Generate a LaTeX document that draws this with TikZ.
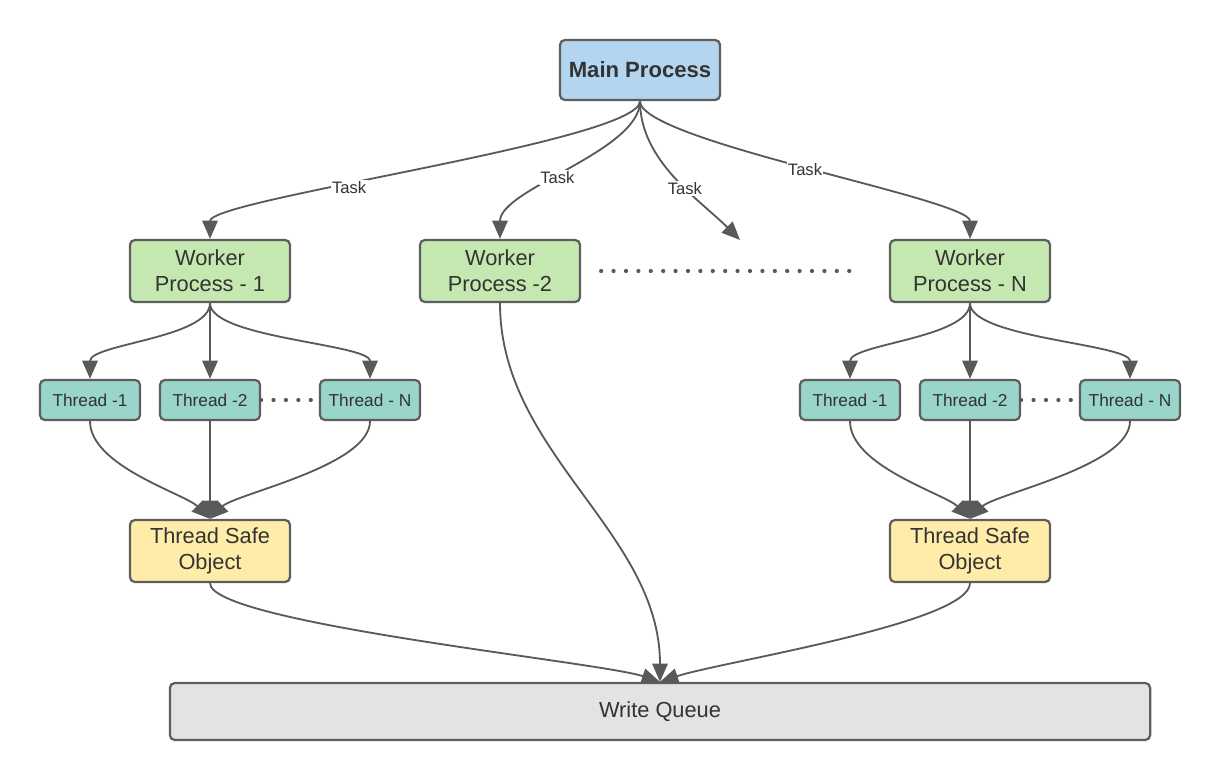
\documentclass[tikz,border=0pt]{standalone}
\usepackage{fontspec}
\setmainfont{Liberation Sans}
\usetikzlibrary{arrows.meta}
\definecolor{txtgray}{HTML}{333333}
\definecolor{edgegray}{HTML}{5E5E5E}
\definecolor{linegray}{HTML}{595959}
\definecolor{mainblue}{HTML}{B3D5F0}
\definecolor{workgreen}{HTML}{C5E8B0}
\definecolor{threadteal}{HTML}{99D5CA}
\definecolor{safeyellow}{HTML}{FFECA9}
\definecolor{queuegray}{HTML}{E3E3E3}
\begin{document}
\begin{tikzpicture}
	[x=0.025cm,y=-0.025cm,
	every node/.style={text=txtgray,align=center,inner sep=0pt},
	box/.style={draw=edgegray,line width=1.6pt,rounded corners=3.5pt,
		font=\fontsize{15.5}{18.5}\selectfont},
	procbox/.style={box,minimum width=4cm,minimum height=1.55cm},
	threadbox/.style={box,fill=threadteal,minimum width=2.5cm,minimum height=1cm,
		font=\fontsize{12.3}{14}\selectfont},
	task/.style={fill=white,inner sep=1pt,font=\fontsize{11.8}{13}\selectfont},
	link/.style={draw=linegray,line width=1.3pt,-{Triangle[length=13pt,width=11pt]}},
	dotline/.style={draw=linegray,line width=3pt,line cap=round,
		dash pattern=on 0pt off 0.31cm}
	]
	\useasboundingbox (0,0) rectangle (1220,780);
	% main and workers
	\node[procbox,fill=mainblue,minimum height=1.5cm,font=\fontsize{15.7}{18.5}\selectfont\bfseries] (main) at (640,70) {Main Process};
	\node[procbox,fill=workgreen] (wone) at (210,271) {Worker\\Process - 1};
	\node[procbox,fill=workgreen] (wtwo) at (500,271) {Worker\\Process -2};
	\node[procbox,fill=workgreen] (wn) at (970,271) {Worker\\Process - N};
	\coordinate (taskend) at (740,240);
	% threads
	\node[threadbox] (lone) at (90,400) {Thread -1};
	\node[threadbox] (ltwo) at (210,400) {Thread -2};
	\node[threadbox] (ln) at (370,400) {Thread - N};
	\node[threadbox] (rone) at (850,400) {Thread -1};
	\node[threadbox] (rtwo) at (970,400) {Thread -2};
	\node[threadbox] (rn) at (1130,400) {Thread - N};
	% safe objects and queue
	\node[procbox,fill=safeyellow] (tsol) at (210,551) {Thread Safe\\Object};
	\node[procbox,fill=safeyellow] (tsor) at (970,551) {Thread Safe\\Object};
	\node[box,fill=queuegray,minimum width=24.5cm,minimum height=1.425cm] (wq) at (660,711.5) {Write Queue};

	% tasks
	\draw[link] (main.south) .. controls +(0,40) and +(0,-40) .. node[task,pos=0.62]{Task} (wone.north);
	\draw[link] (main.south) .. controls +(0,50) and +(0,-50) .. node[task,pos=0.56]{Task} (wtwo.north);
	\draw[link] (main.south) .. controls +(0,60) and +(-40,-40) .. node[task,pos=0.58]{Task} (taskend);
	\draw[link] (main.south) .. controls +(0,40) and +(0,-40) .. node[task,pos=0.5]{Task} (wn.north);
	\draw[dotline] ([xshift=0.5cm]wtwo.east) -- ([xshift=-0.75cm]wn.west);

	% worker 1 side
	\draw[link] (wone.south) .. controls +(0,35) and +(0,-35) .. (lone.north);
	\draw[link] (wone.south) -- (ltwo.north);
	\draw[link] (wone.south) .. controls +(0,35) and +(0,-35) .. (ln.north);
	\draw[dotline] (ltwo.east) -- (ln.west);
	\draw[link] (lone.south) .. controls +(0,45) and +(-25,-25) .. (tsol.north);
	\draw[link] (ltwo.south) -- (tsol.north);
	\draw[link] (ln.south) .. controls +(0,45) and +(25,-25) .. (tsol.north);

	% worker N side
	\draw[link] (wn.south) .. controls +(0,35) and +(0,-35) .. (rone.north);
	\draw[link] (wn.south) -- (rtwo.north);
	\draw[link] (wn.south) .. controls +(0,35) and +(0,-35) .. (rn.north);
	\draw[dotline] (rtwo.east) -- (rn.west);
	\draw[link] (rone.south) .. controls +(0,45) and +(-25,-25) .. (tsor.north);
	\draw[link] (rtwo.south) -- (tsor.north);
	\draw[link] (rn.south) .. controls +(0,45) and +(25,-25) .. (tsor.north);

	% into the queue
	\draw[link] (wtwo.south) .. controls +(0,150) and +(0,-150) .. (wq.north);
	\draw[link] (tsol.south) .. controls +(0,40) and +(-60,-20) .. (wq.north);
	\draw[link] (tsor.south) .. controls +(0,40) and +(60,-20) .. (wq.north);
\end{tikzpicture}
\end{document}
